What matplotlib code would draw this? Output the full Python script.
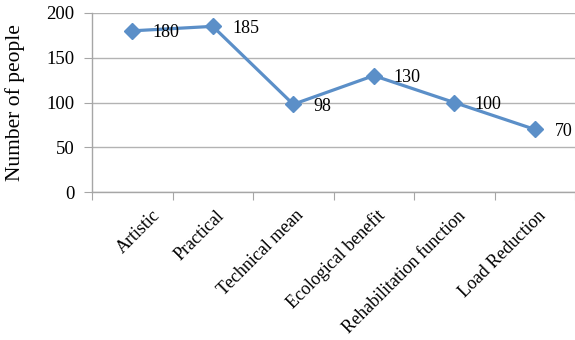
import matplotlib
matplotlib.use("Agg")
import matplotlib.pyplot as plt
import matplotlib.transforms as mtransforms

categories = ["Artistic", "Practical", "Technical mean", "Ecological benefit",
              "Rehabilitation function", "Load Reduction"]
people = [180, 185, 98, 130, 100, 70]
y_ticks = [0, 50, 100, 150, 200]

plt.rcParams["font.family"] = ["Liberation Serif", "DejaVu Serif"]

fig = plt.figure(figsize=(5.75, 3.4), dpi=100)
ax = fig.add_axes([0.16, 0.435, 0.84, 0.527])

line_color = "#5b8fc8"
x = list(range(len(categories)))
ax.plot(x, people, color=line_color, linewidth=2.3, marker="D",
        markersize=8.5, markerfacecolor=line_color, markeredgecolor=line_color,
        zorder=3)

for xi, v in zip(x, people):
    ax.annotate(str(v), (xi, v), xytext=(14.5, -1.5), textcoords="offset points",
                ha="left", va="center", fontsize=13, color="black", zorder=4)

ax.set_xlim(-0.5, len(categories) - 0.5)
ax.set_ylim(0, 200)
ax.set_yticks(y_ticks)
ax.set_yticklabels([str(t) for t in y_ticks], fontsize=13.5)
ax.yaxis.grid(True, color="#b3b3b3", linewidth=1.0)
ax.set_axisbelow(True)

# category tick marks sit on the boundaries between categories
ax.set_xticks([i - 0.5 for i in range(len(categories) + 1)], minor=False)
ax.set_xticklabels([])
ax.set_xticks(x, minor=True)
ax.set_xticklabels(categories, minor=True, rotation=45, ha="right",
                   va="center", rotation_mode="anchor", fontsize=13)
ax.tick_params(axis="x", which="minor", length=0, pad=0)
ax.tick_params(axis="x", which="major", length=6, color="#a6a6a6", direction="out")
ax.tick_params(axis="y", length=6, color="#a6a6a6", pad=6.5)

shifts = [0.25, 0.09, 0.08, 0.09, 0.09, 0.09]
for lab, dx in zip(ax.get_xticklabels(minor=True), shifts):
    lab.set_transform(lab.get_transform() +
                      mtransforms.ScaledTranslation(dx, -0.21, fig.dpi_scale_trans))

for side in ("top", "right"):
    ax.spines[side].set_visible(False)
for side in ("left", "bottom"):
    ax.spines[side].set_color("#a6a6a6")
    ax.spines[side].set_linewidth(1.0)

ax.set_ylabel("Number of people", fontsize=15.5)
ax.yaxis.set_label_coords(-0.139, 0.5)

fig.savefig("out.png", dpi=100)
